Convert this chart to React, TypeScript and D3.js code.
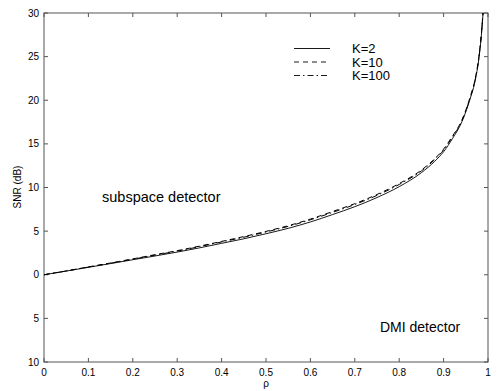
import React from "react";
import * as d3 from "d3";

const rho = [0, 0.05, 0.1, 0.15, 0.2, 0.25, 0.3, 0.35, 0.4, 0.45, 0.5, 0.55, 0.6, 0.65, 0.7, 0.75, 0.8, 0.85, 0.88, 0.9, 0.92, 0.94, 0.96, 0.97, 0.98, 0.985, 0.99];
const snrK2 = [0, 0.42, 0.85, 1.28, 1.72, 2.15, 2.6, 3.08, 3.6, 4.12, 4.7, 5.32, 6.05, 6.9, 7.8, 8.85, 10.1, 11.7, 13.0, 14.1, 15.6, 17.4, 20.2, 22.0, 25.0, 27.4, 30.8];
const snrK10 = [0, 0.44, 0.9, 1.35, 1.82, 2.3, 2.76, 3.28, 3.82, 4.38, 4.97, 5.62, 6.38, 7.25, 8.15, 9.2, 10.45, 12.0, 13.3, 14.4, 15.9, 17.6, 20.4, 22.2, 25.2, 27.6, 30.9];
const snrK100 = [0, 0.43, 0.88, 1.32, 1.78, 2.25, 2.71, 3.22, 3.76, 4.3, 4.9, 5.54, 6.3, 7.15, 8.05, 9.1, 10.35, 11.9, 13.2, 14.3, 15.8, 17.5, 20.3, 22.1, 25.1, 27.5, 30.9];
const legendLabels = ["K=2", "K=10", "K=100"];
const xTicks = [0, 0.1, 0.2, 0.3, 0.4, 0.5, 0.6, 0.7, 0.8, 0.9, 1];
const xTickLabels = ["0", "0.1", "0.2", "0.3", "0.4", "0.5", "0.6", "0.7", "0.8", "0.9", "1"];
const yTicks = [30, 25, 20, 15, 10, 5, 0, -5, -10];
const yTickLabels = ["30", "25", "20", "15", "10", "5", "0", "5", "10"];

const L = 44, R = 488, T = 13, B = 362;
const font = "Liberation Sans, Arial, Helvetica, sans-serif";

export default function App() {
  const x = d3.scaleLinear().domain([0, 1]).range([L, R]);
  const y = d3.scaleLinear().domain([-10, 30]).range([B, T]);
  const line = d3.line<number>().x((_, i) => x(rho[i])).y((d) => y(d)).curve(d3.curveMonotoneX);
  const series = [
    { vals: snrK2, dash: "none", w: 0.9 },
    { vals: snrK10, dash: "5,4", w: 1 },
    { vals: snrK100, dash: "6,3,1.5,3", w: 1 },
  ];
  const axisColor = "#555";
  return (
    <svg width={500} height={391} style={{ position: "absolute", left: 0, top: 0, background: "#fff" }}>
      <defs>
        <clipPath id="plotclip">
          <rect x={L} y={T} width={R - L} height={B - T} />
        </clipPath>
      </defs>
      <rect x={0} y={0} width={500} height={391} fill="#fff" />
      <rect x={L} y={T} width={R - L} height={B - T} fill="none" stroke={axisColor} strokeWidth={1} />
      {xTicks.map((t, i) => (
        <g key={"x" + i}>
          <line x1={x(t)} x2={x(t)} y1={B} y2={B - 4} stroke={axisColor} />
          <line x1={x(t)} x2={x(t)} y1={T} y2={T + 4} stroke={axisColor} />
          <text x={x(t)} y={376} fontSize={10} fontFamily={font} textAnchor="middle" fill="#000">{xTickLabels[i]}</text>
        </g>
      ))}
      {yTicks.map((t, i) => (
        <g key={"y" + i}>
          <line x1={L} x2={L + 4} y1={y(t)} y2={y(t)} stroke={axisColor} />
          <line x1={R} x2={R - 4} y1={y(t)} y2={y(t)} stroke={axisColor} />
          <text x={39} y={y(t) + 3.5} fontSize={10} fontFamily={font} textAnchor="end" fill="#000">{yTickLabels[i]}</text>
        </g>
      ))}
      <text x={x(0.5)} y={387} fontSize={10} fontFamily={font} textAnchor="middle">ρ</text>
      <text transform={`translate(21, 187) rotate(-90)`} fontSize={10} fontFamily={font} textAnchor="middle">SNR (dB)</text>
      <g clipPath="url(#plotclip)">
        {series.map((s, i) => (
          <path key={i} d={line(s.vals) || ""} fill="none" stroke="#000" strokeWidth={s.w} strokeDasharray={s.dash} />
        ))}
      </g>
      {legendLabels.map((lab, i) => (
        <g key={"l" + i}>
          <line x1={294} x2={330} y1={48.5 + i * 13.5} y2={48.5 + i * 13.5} stroke="#000" strokeWidth={0.9} strokeDasharray={series[i].dash} />
          <text x={352} y={53 + i * 13.5} fontSize={13} fontFamily={font}>{lab}</text>
        </g>
      ))}
      <text x={102} y={202} fontSize={14.5} fontFamily={font}>subspace detector</text>
      <text x={380} y={332} fontSize={14} fontFamily={font}>DMI detector</text>
    </svg>
  );
}
